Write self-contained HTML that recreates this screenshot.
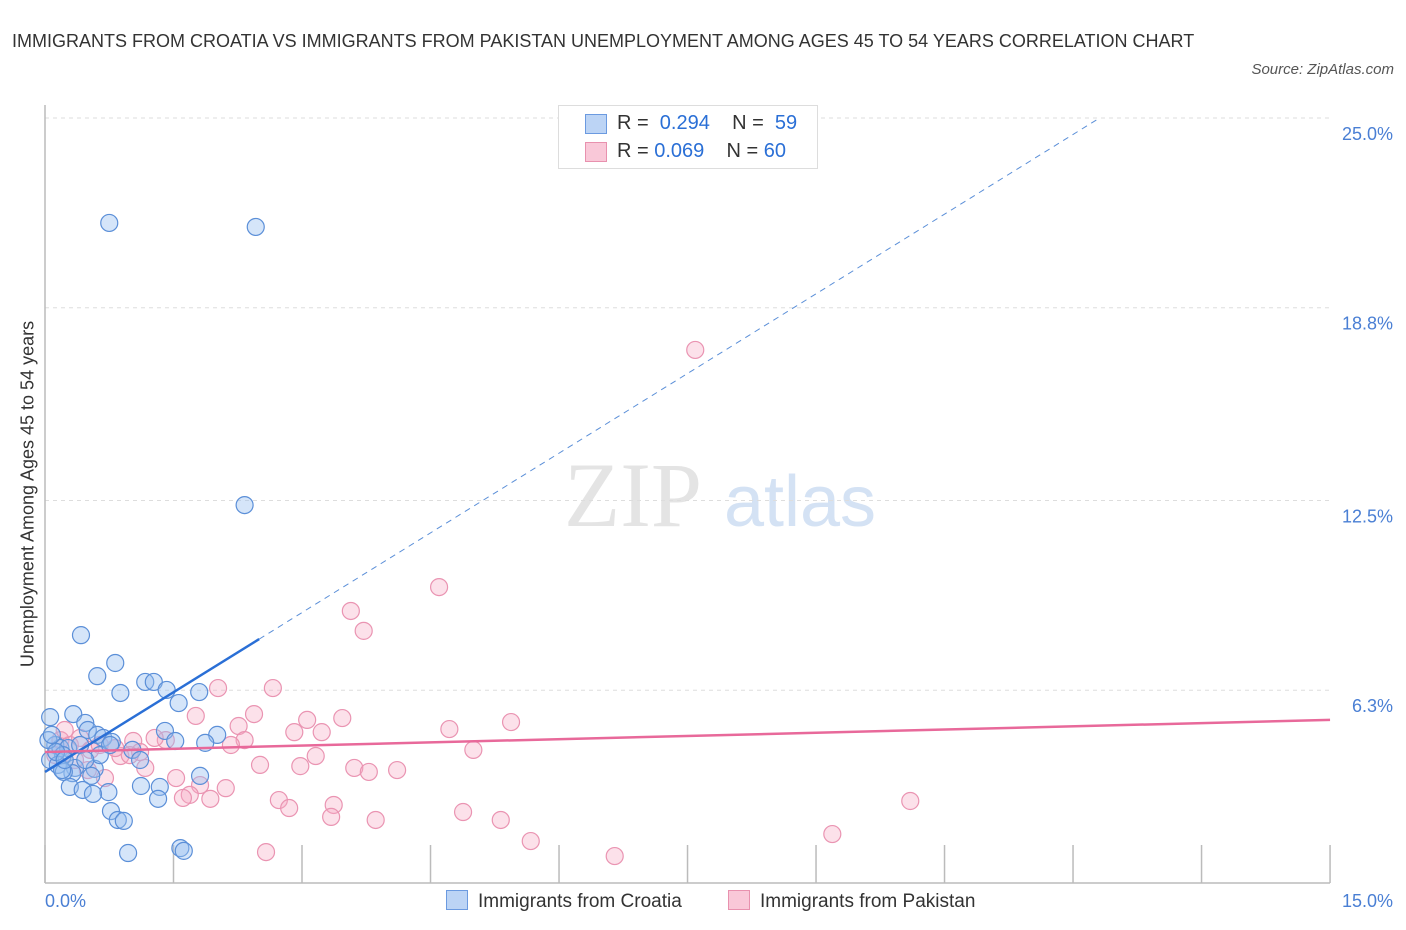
<!DOCTYPE html>
<html><head><meta charset="utf-8"><style>
body{margin:0;background:#fff;font-family:"Liberation Sans",sans-serif;}
#wrap{position:relative;width:1406px;height:930px;overflow:hidden;}
.t{position:absolute;white-space:nowrap;}
</style></head><body>
<div id="wrap">
<div class="t" style="left:12px;top:22px;font-size:18px;color:#333;line-height:38px;width:1200px;white-space:normal">IMMIGRANTS FROM CROATIA VS IMMIGRANTS FROM PAKISTAN UNEMPLOYMENT AMONG AGES 45 TO 54 YEARS CORRELATION CHART</div>
<div class="t" style="right:12px;top:61px;font-size:15px;color:#555;font-style:italic">Source: ZipAtlas.com</div>
<svg id="svg" width="1406" height="930" style="position:absolute;left:0;top:0"></svg>
</div>
<script>
const blueX=[0.75,2.46,2.33,0.42,0.82,0.61,0.88,1.17,1.27,1.42,1.80,1.56,0.06,0.33,0.47,0.50,0.61,0.68,1.40,2.01,1.52,1.87,0.78,0.12,0.18,0.27,0.21,0.06,0.15,0.35,0.58,0.32,0.22,0.20,0.54,1.81,0.29,0.44,0.74,1.12,1.34,0.56,1.32,0.77,0.85,0.92,0.97,1.58,1.62,0.04,0.13,0.41,0.64,1.02,0.76,0.23,0.47,1.11,0.08];
const blueY=[21.57,21.44,12.35,8.10,7.19,6.76,6.21,6.57,6.57,6.31,6.24,5.88,5.42,5.52,5.23,5.00,4.84,4.74,4.97,4.84,4.64,4.58,4.61,4.51,4.41,4.41,4.18,4.02,3.86,3.76,3.73,3.59,3.63,3.69,3.50,3.50,3.14,3.04,2.97,3.17,3.14,2.91,2.75,2.35,2.06,2.03,0.98,1.14,1.05,4.67,4.28,4.51,4.18,4.35,4.51,4.02,4.02,4.02,4.84];
const pinkX=[7.59,4.60,3.57,3.72,2.02,2.66,2.44,1.76,3.06,3.47,5.44,4.72,2.26,2.91,3.23,1.41,1.03,1.28,2.33,2.17,5.00,3.16,0.88,1.11,2.51,2.98,3.61,3.78,4.11,1.53,1.17,0.70,1.81,2.11,1.69,1.61,1.93,2.73,2.85,3.37,3.34,3.86,4.88,5.32,5.67,6.65,9.19,10.10,2.58,0.18,0.29,0.41,0.53,0.64,0.12,0.35,0.82,0.99,0.23,0.50];
const pinkY=[17.42,9.67,8.89,8.24,6.37,6.37,5.52,5.46,5.33,5.39,5.26,5.03,5.13,4.93,4.93,4.67,4.64,4.74,4.67,4.51,4.35,4.15,4.15,4.28,3.86,3.82,3.76,3.63,3.69,3.43,3.76,3.43,3.20,3.10,2.88,2.78,2.75,2.71,2.45,2.55,2.16,2.06,2.32,2.06,1.37,0.88,1.60,2.68,1.01,4.67,4.51,4.74,4.35,4.51,4.18,4.02,4.41,4.18,5.00,3.69];
const yTicks=[6.3,12.5,18.8,25.0];
const blueTrend=[3.63,1.736]; // intercept, slope
const pinkTrend=[4.28,0.07];
const X=v=>45+v*85.67, Y=v=>883-v*30.6;
const svg=document.getElementById('svg');
const NS='http://www.w3.org/2000/svg';
function mk(tag,attrs){const e=document.createElementNS(NS,tag);for(const k in attrs)e.setAttribute(k,attrs[k]);svg.appendChild(e);return e;}
// watermark
let w=mk('text',{x:633,y:526,'font-size':92,'font-family':'Liberation Serif',fill:'#e4e4e4','text-anchor':'middle'});w.textContent='ZIP';


w=mk('text',{x:800,y:526,'font-size':72,'font-family':'Liberation Sans',fill:'#d4e2f4','text-anchor':'middle'});w.textContent='atlas';


yTicks.forEach(t=>{
 const g=mk('line',{x1:45,x2:1330,y1:Y(t),y2:Y(t),stroke:'#ddd','stroke-dasharray':'4,4'});
 
 
 const l=mk('text',{x:1393,y:Y(t)+22,'font-size':18,fill:'#4a7fd4','text-anchor':'end'});l.textContent=t.toFixed(1)+'%';
 
 
});
let a=mk('line',{x1:45,x2:45,y1:105,y2:883,stroke:'#bbb','stroke-width':1.5});


a=mk('line',{x1:45,x2:1330,y1:883,y2:883,stroke:'#bbb','stroke-width':1.5});


for(let i=0;i<=10;i++){const t=mk('line',{x1:X(i*1.5),x2:X(i*1.5),y1:845,y2:883,stroke:'#bbb','stroke-width':1.5});
 
 }
function dots(xs,ys,fill,stroke,name){xs.forEach((x,i)=>{const c=mk('circle',{cx:X(x),cy:Y(ys[i]),r:8.5,fill:fill,stroke:stroke,'stroke-width':1.2});
 
 });}
dots(pinkX,pinkY,'rgba(245,170,195,0.35)','#ea94b2','pakistan-point');
dots(blueX,blueY,'rgba(150,190,240,0.4)','#5b8fd8','croatia-point');
let tl=mk('line',{x1:X(0),y1:Y(blueTrend[0]),x2:X(2.5),y2:Y(blueTrend[0]+blueTrend[1]*2.5),stroke:'#2a6fd6','stroke-width':2.5});


tl=mk('line',{x1:X(2.5),y1:Y(blueTrend[0]+blueTrend[1]*2.5),x2:X(12.31),y2:Y(blueTrend[0]+blueTrend[1]*12.31),stroke:'#5b8fd8','stroke-width':1,'stroke-dasharray':'6,5'});


tl=mk('line',{x1:X(0),y1:Y(pinkTrend[0]),x2:X(15),y2:Y(pinkTrend[0]+pinkTrend[1]*15),stroke:'#e8699a','stroke-width':2.5});


</script>
<div class="t" style="left:28px;top:494px;font-size:18px;color:#333;transform:translate(-50%,-50%) rotate(-90deg)">Unemployment Among Ages 45 to 54 years</div>
<div class="t" style="left:45px;top:891px;font-size:18px;color:#4a7fd4">0.0%</div>
<div class="t" style="right:13px;top:891px;font-size:18px;color:#4a7fd4">15.0%</div>
<div style="position:absolute;left:558px;top:105px;width:258px;height:62px;border:1px solid #ddd;background:#fff;font-size:20px;color:#333">
 <div style="position:absolute;left:26px;top:8px;width:20px;height:18px;background:#bcd4f5;border:1px solid #6b9ae0"></div>
 <div class="t" style="left:58px;top:6px">R = <span style="color:#2a6fd6">&nbsp;0.294</span>&nbsp;&nbsp;&nbsp;&nbsp;N = &nbsp;<span style="color:#2a6fd6">59</span></div>
 <div style="position:absolute;left:26px;top:36px;width:20px;height:18px;background:#f9c8d8;border:1px solid #e891ae"></div>
 <div class="t" style="left:58px;top:34px">R = <span style="color:#2a6fd6">0.069</span>&nbsp;&nbsp;&nbsp;&nbsp;N = <span style="color:#2a6fd6">60</span></div>
</div>
<div style="position:absolute;left:446px;top:890px;font-size:19px;color:#333">
 <span style="display:inline-block;width:20px;height:18px;background:#bcd4f5;border:1px solid #6b9ae0;vertical-align:-3px;margin-right:10px"></span>Immigrants from Croatia</div>
<div style="position:absolute;left:728px;top:890px;font-size:19px;color:#333">
 <span style="display:inline-block;width:20px;height:18px;background:#f9c8d8;border:1px solid #e891ae;vertical-align:-3px;margin-right:10px"></span>Immigrants from Pakistan</div>
</body></html>
